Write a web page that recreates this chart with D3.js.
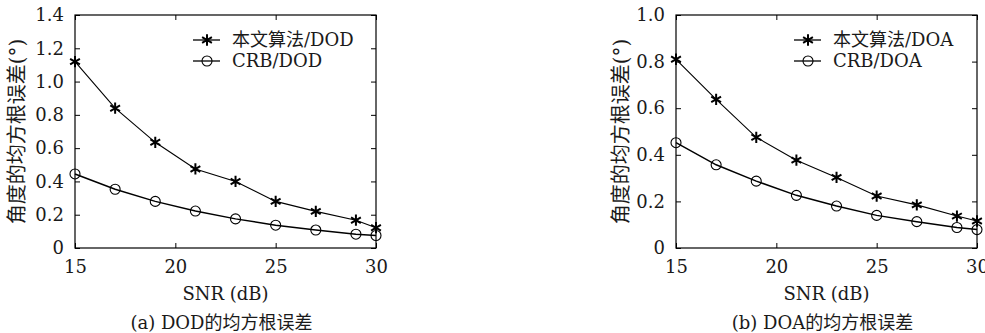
<!DOCTYPE html>
<html>
<head>
<meta charset="utf-8">
<script src="https://cdn.jsdelivr.net/npm/d3@7"></script>
<style>
  body { margin: 0; background: #fff; }
</style>
</head>
<body>
<div id="chart"></div>
<script>
// SNR values (dB) on the x axis
const snr = [15, 17, 19, 21, 23, 25, 27, 29, 30];

// RMSE (degrees)
const dodProposed = [1.12, 0.84, 0.635, 0.475, 0.4, 0.28, 0.22, 0.167, 0.122];
const dodCrb = [0.445, 0.353, 0.28, 0.222, 0.175, 0.137, 0.108, 0.083, 0.075];
const doaProposed = [0.81, 0.638, 0.475, 0.377, 0.303, 0.223, 0.185, 0.137, 0.116];
const doaCrb = [0.452, 0.357, 0.287, 0.226, 0.18, 0.14, 0.113, 0.088, 0.079];

const xTicks = [15, 20, 25, 30];
const dodTicks = [0, 0.2, 0.4, 0.6, 0.8, 1.0, 1.2, 1.4];
const doaTicks = [0, 0.2, 0.4, 0.6, 0.8, 1.0];

const yLabel = "角度的均方根误差(°)";
const xLabel = "SNR (dB)";

const panels = [
  { left: 75, yMax: 1.4, yTicks: dodTicks, proposed: dodProposed, crb: dodCrb,
    names: ["本文算法/DOD", "CRB/DOD"], caption: "(a) DOD的均方根误差", yLabelX: 17 },
  { left: 676, yMax: 1.0, yTicks: doaTicks, proposed: doaProposed, crb: doaCrb,
    names: ["本文算法/DOA", "CRB/DOA"], caption: "(b) DOA的均方根误差", yLabelX: 621 }
];

const width = 985, height = 333;
const plotW = 301, plotTop = 15, plotBottom = 248;
const fontSize = 18;
const fontFamily = "'DejaVu Serif', 'Liberation Serif', 'Noto Sans CJK SC', serif";

const svg = d3.select("#chart").append("svg")
  .attr("width", width)
  .attr("height", height)
  .style("font-family", fontFamily);

const fmt = d => d === 0 ? "0" : d3.format(".1f")(d);

panels.forEach(p => {
  const x = d3.scaleLinear().domain([15, 30]).range([p.left, p.left + plotW]);
  const y = d3.scaleLinear().domain([0, p.yMax]).range([plotBottom, plotTop]);
  const g = svg.append("g");

  // frame
  g.append("rect")
    .attr("x", x(15)).attr("y", plotTop)
    .attr("width", plotW).attr("height", plotBottom - plotTop)
    .attr("fill", "none").attr("stroke", "#000").attr("stroke-width", 1.2);

  // axes with inward ticks
  const ax = [
    g.append("g").attr("transform", `translate(0,${plotBottom})`)
      .call(d3.axisBottom(x).tickValues(xTicks).tickSize(-5).tickPadding(12).tickFormat(d3.format("d"))),
    g.append("g").attr("transform", `translate(0,${plotTop})`)
      .call(d3.axisTop(x).tickValues(xTicks).tickSize(-5).tickFormat("")),
    g.append("g").attr("transform", `translate(${x(15)},0)`)
      .call(d3.axisLeft(y).tickValues(p.yTicks).tickSize(-5).tickPadding(11).tickFormat(fmt)),
    g.append("g").attr("transform", `translate(${x(30)},0)`)
      .call(d3.axisRight(y).tickValues(p.yTicks).tickSize(-5).tickFormat(""))
  ];
  ax.forEach(a => {
    a.attr("font-family", fontFamily).attr("font-size", fontSize);
    a.select(".domain").remove();
    a.selectAll("line").attr("stroke", "#000");
    a.selectAll("text").attr("fill", "#1a1a1a");
  });

  const label = (s, size) => g.append("text")
    .attr("font-family", fontFamily).attr("font-size", size)
    .attr("fill", "#1a1a1a").text(s);

  // axis titles and caption
  const cx = (x(15) + x(30)) / 2;
  label(xLabel, fontSize).attr("x", cx).attr("y", 300).attr("text-anchor", "middle");
  label(p.caption, fontSize).attr("x", cx - 4).attr("y", 329).attr("text-anchor", "middle");
  label(yLabel, 20)
    .attr("transform", `translate(${p.yLabelX + 7},${(plotTop + plotBottom) / 2}) rotate(-90)`)
    .attr("text-anchor", "middle");

  const line = d3.line().x((d, i) => x(snr[i])).y(d => y(d));
  const star = d3.symbol(d3.symbolAsterisk).size(90);

  // proposed algorithm
  g.append("path").datum(p.proposed).attr("d", line)
    .attr("fill", "none").attr("stroke", "#000").attr("stroke-width", 1.1);
  g.selectAll(".star").data(p.proposed).enter().append("path")
    .attr("class", "star").attr("d", star)
    .attr("transform", (d, i) => `translate(${x(snr[i])},${y(d)})`)
    .attr("fill", "none").attr("stroke", "#000").attr("stroke-width", 2);

  // CRB
  g.append("path").datum(p.crb).attr("d", line)
    .attr("fill", "none").attr("stroke", "#000").attr("stroke-width", 1.5);
  g.selectAll(".circ").data(p.crb).enter().append("circle")
    .attr("class", "circ")
    .attr("cx", (d, i) => x(snr[i])).attr("cy", d => y(d)).attr("r", 5)
    .attr("fill", "none").attr("stroke", "#000").attr("stroke-width", 1.1);

  // legend
  const lx = x(30) - 183;
  const rows = [40, 61];
  rows.forEach((ry, k) => {
    g.append("line").attr("x1", lx).attr("x2", lx + 27).attr("y1", ry).attr("y2", ry)
      .attr("stroke", "#000").attr("stroke-width", 1.3);
    if (k === 0) {
      g.append("path").attr("d", star).attr("transform", `translate(${lx + 14},${ry})`)
        .attr("fill", "none").attr("stroke", "#000").attr("stroke-width", 2);
    } else {
      g.append("circle").attr("cx", lx + 14).attr("cy", ry).attr("r", 5)
        .attr("fill", "none").attr("stroke", "#000").attr("stroke-width", 1.1);
    }
    label(p.names[k], fontSize).attr("x", x(30) - 144).attr("y", ry + 6);
  });
});
</script>
</body>
</html>
